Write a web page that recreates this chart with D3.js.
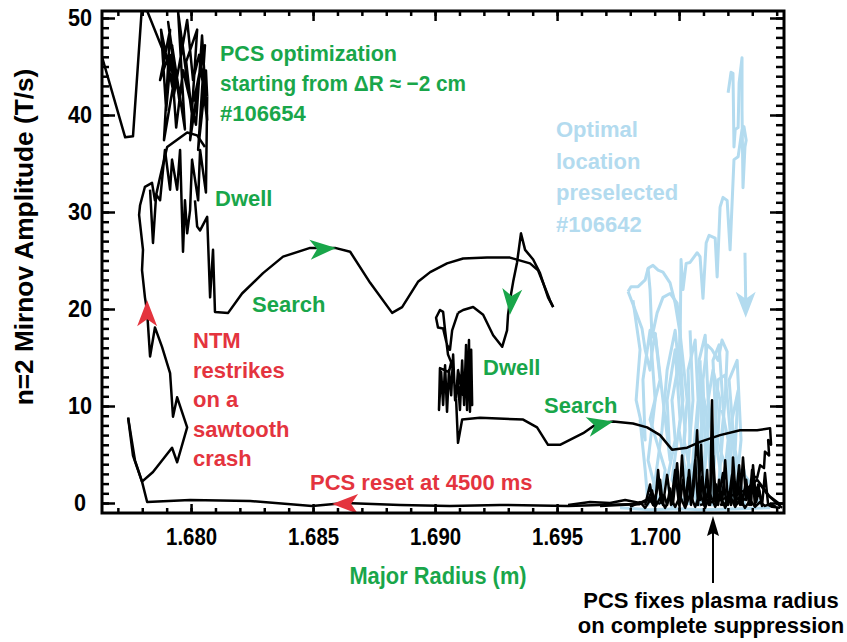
<!DOCTYPE html>
<html>
<head>
<meta charset="utf-8">
<script src="https://cdn.jsdelivr.net/npm/d3@7"></script>
<style>
  body { margin: 0; background: #fff; }
  text { font-family: "Liberation Sans", Arial, Helvetica, sans-serif; font-weight: bold; }
</style>
</head>
<body>
<svg id="chart" width="847" height="642"></svg>
<script>
// ---- axis ticks ----
const xMajor = [1.680, 1.685, 1.690, 1.695, 1.700];
const xMinor = d3.range(1677, 1705).map(v => v / 1000);
const yMajor = [0, 10, 20, 30, 40, 50];
const yMinor = d3.range(0, 51);

// ---- shot #106654: [major radius (m), n=2 amplitude (T/s)] ----
const startTrace = [[1.67635,46.0],[1.67730,37.7],[1.67762,37.8],[1.67799,51.3],[1.67811,51.3],
  [1.67881,46.9],[1.67902,45.7]];
const dwellCluster = [[1.67902,45.7],[1.67873,43.6],[1.67914,48.8],[1.67889,37.4],[1.67934,44.1],[1.67906,49.6],
  [1.67955,41.0],[1.67922,47.2],[1.67975,38.5],[1.67947,50.6],[1.67988,42.8],[1.67963,47.7],[1.68004,40.0],
  [1.67980,45.5],[1.68025,48.8],[1.67996,37.4],[1.68037,44.4],[1.68012,41.5],[1.68057,47.2],[1.68029,36.4],
  [1.68053,42.1],[1.68066,39.5],[1.68045,48.2],[1.68020,39.0],[1.67967,44.6],[1.67939,38.7],[1.67918,46.2],
  [1.67898,40.5],[1.67877,48.8],[1.67930,42.1],[1.67984,49.8],[1.68008,43.6],[1.68033,46.2],[1.68057,41.5],
  [1.68061,44.6],[1.68066,41.9]];
const dwellSpikes = [[1.68066,41.9],[1.68061,32.0],[1.68037,36.4],[1.68029,31.2],[1.68004,35.4],[1.67996,30.2],
  [1.67984,27.8],[1.67975,31.2],[1.67967,25.9],[1.67955,36.4],[1.67943,32.3],[1.67922,35.4],[1.67914,32.3],
  [1.67893,36.4],[1.67873,31.2],[1.67857,31.8],[1.67844,26.8],[1.67832,32.3]];
const restrike = [[1.67742,8.8],[1.67762,4.9],[1.67799,2.2],[1.67844,3.2],[1.67922,5.7],[1.67943,4.2],
  [1.67984,7.8],[1.67943,10.9],[1.67926,8.9],[1.67914,13.4],[1.67881,16.1],[1.67852,18.1],[1.67832,15.1],
  [1.67820,19.7],[1.67811,21.2],[1.67799,24.0],[1.67803,26.1],[1.67787,29.7],[1.67791,30.7],[1.67811,32.6],
  [1.67840,33.0],[1.67852,31.2],[1.67873,33.6],[1.67902,36.7],[1.67984,38.2],[1.68025,37.9],[1.68057,36.7]];
const searchOut = [[1.68016,31.2],[1.68025,28.5],[1.68037,28.1],[1.68066,29.5],[1.68078,21.2],[1.68090,26.1],
  [1.68098,19.7],[1.68152,19.6],[1.68209,21.6],[1.68295,23.7],[1.68377,25.4],[1.68488,26.3],[1.68590,26.3],
  [1.68652,25.9],[1.68734,22.7],[1.68824,19.6],[1.68865,20.2],[1.68930,22.8],[1.68980,23.8],[1.69049,24.7],
  [1.69115,25.2],[1.69213,25.3],[1.69307,25.3],[1.69389,24.7],[1.69422,24.0],[1.69471,20.9],[1.69484,20.2]];
const searchBack = [[1.69484,20.2],[1.69463,21.2],[1.69430,23.7],[1.69402,25.1],[1.69369,26.1],[1.69352,27.8],
  [1.69336,24.8],[1.69320,22.8],[1.69307,20.9],[1.69299,19.4],[1.69295,17.8],[1.69275,16.1],[1.69238,17.3],
  [1.69197,19.4],[1.69156,20.2],[1.69115,19.9],[1.69094,19.6]];
const secondDwell = [[1.69094,19.6],[1.69070,17.8],[1.69061,15.8],[1.69049,16.3],[1.69033,18.0],[1.69012,18.1],
  [1.69004,19.1],[1.69020,19.9],[1.69033,19.7],[1.69041,17.8],[1.69053,15.3],[1.69066,14.5],[1.69057,13.5],
  [1.69020,13.9],[1.69016,9.6],[1.69025,13.5],[1.69033,10.1],[1.69041,14.2],[1.69049,9.4],[1.69057,13.7],
  [1.69066,11.1],[1.69074,15.3],[1.69082,10.6],[1.69094,12.7],[1.69102,9.6],[1.69111,14.7],[1.69119,10.1],
  [1.69127,16.3],[1.69131,9.6],[1.69139,16.8],[1.69143,9.4],[1.69148,15.8],[1.69152,10.1],[1.69135,12.7],
  [1.69115,11.1],[1.69094,13.7],[1.69086,10.8]];
const finalSearch = [[1.69086,10.8],[1.69094,6.2],[1.69111,8.6],[1.69184,8.8],[1.69361,8.6],[1.69418,7.8],
  [1.69463,6.0],[1.69512,6.0],[1.69607,7.2],[1.69664,8.2],[1.69730,8.4],[1.69811,8.2],[1.69869,7.8],
  [1.69922,7.0],[1.69971,5.5],[1.70033,5.7],[1.70086,6.3],[1.70168,7.0],[1.70250,7.5],[1.70320,7.5],
  [1.70373,7.7],[1.70377,6.0],[1.70365,6.5],[1.70369,4.9],[1.70352,5.3],[1.70348,3.6],[1.70332,3.9],
  [1.70320,2.6],[1.70303,2.8],[1.70291,1.5],[1.70270,1.0],[1.70250,0.6],[1.70230,0.3],[1.70168,-0.2]];
const resetTrace = [[1.69840,-0.1],[1.69676,-0.2],[1.69545,-0.3],[1.69266,-0.2],[1.69061,-0.3],[1.68857,-0.2],
  [1.68631,0.0],[1.68496,-0.3],[1.68242,0.2],[1.67996,0.3],[1.67820,0.1],[1.67799,2.2],[1.67770,4.4],[1.67742,8.8]];
const suppressedA = [[1.69545,-0.2],[1.69635,0.1],[1.69717,0.0],[1.69779,0.3],[1.69840,0.0],[1.69881,0.5],[1.69922,-0.1]];
const suppressedB = [[1.69676,-0.3],[1.69758,-0.2],[1.69840,-0.1],[1.69873,0.3],[1.69889,1.3],[1.69902,-0.2],
  [1.69914,3.4],[1.69926,0.0],[1.69939,0.8],[1.69951,-0.2],[1.69963,1.5],[1.69975,-0.1],[1.69992,4.1],
  [1.70004,0.0],[1.70016,2.4],[1.70029,-0.2],[1.70041,3.4],[1.70053,0.1],[1.70061,1.9],[1.70074,7.5],
  [1.70086,0.3],[1.70094,2.7],[1.70107,0.0],[1.70119,1.3],[1.70127,-0.2],[1.70135,10.6],[1.70143,0.3],
  [1.70152,1.9],[1.70160,-0.2],[1.70168,1.3],[1.70180,3.1],[1.70193,0.0],[1.70205,1.1],[1.70213,-0.2],
  [1.70221,4.7],[1.70234,0.1],[1.70242,2.4],[1.70250,-0.2],[1.70262,4.7],[1.70275,0.3],[1.70283,1.5],
  [1.70295,-0.2],[1.70303,3.9],[1.70316,0.1],[1.70328,1.3],[1.70340,-0.3],[1.70352,3.1],[1.70365,-0.2],
  [1.70381,-0.4],[1.70414,-0.5]];
const suppressedC = [[1.69799,-0.4],[1.69840,0.1],[1.69861,-0.5],[1.69881,0.3],[1.69902,-0.4],[1.69922,0.5],
  [1.69943,-0.5],[1.69963,0.6],[1.69984,-0.4],[1.70004,0.7],[1.70025,-0.5],[1.70045,0.9],[1.70066,-0.4],
  [1.70086,1.0],[1.70107,-0.5],[1.70127,0.9],[1.70148,-0.4],[1.70168,0.8],[1.70189,-0.5],[1.70209,0.7],
  [1.70230,-0.4],[1.70250,0.5],[1.70270,-0.5],[1.70291,0.3],[1.70311,-0.4],[1.70332,0.1],[1.70352,-0.3],
  [1.70373,-0.1],[1.70398,-0.4]];
const suppressedD = [[1.70230,-0.2],[1.70283,0.6],[1.70332,1.9],[1.70365,0.8],[1.70418,-0.2]];
const suppressedE = [[1.70086,-0.2],[1.70168,0.3],[1.70270,1.3],[1.70320,2.4],[1.70373,0.6],[1.70422,-0.5]];
const suppressedF = [[1.69861,-0.2],[1.69881,1.9],[1.69893,-0.2],[1.69922,2.4],[1.69934,-0.2],[1.69951,2.9],
  [1.69967,-0.2],[1.69984,3.4],[1.70000,-0.2],[1.70012,4.9],[1.70025,-0.2],[1.70037,2.6],[1.70049,-0.2],
  [1.70066,4.4],[1.70078,-0.2],[1.70090,6.0],[1.70102,-0.2],[1.70115,3.4],[1.70123,-0.2],[1.70139,4.9],
  [1.70152,-0.2],[1.70164,2.4],[1.70176,-0.2],[1.70189,4.4],[1.70201,-0.2],[1.70217,2.9],[1.70230,-0.2],
  [1.70246,3.9],[1.70258,-0.2],[1.70275,2.4],[1.70287,-0.2],[1.70299,3.4],[1.70311,-0.2],[1.70324,1.9],
  [1.70340,-0.2]];

// ---- shot #106642 (preselected location) ----
const preTop = [[1.70201,42.3],[1.70213,44.4],[1.70221,44.3],[1.70225,36.7],[1.70230,38.5],[1.70242,38.7],
  [1.70246,43.3],[1.70258,45.9],[1.70258,40.5],[1.70262,32.5],[1.70270,36.7],[1.70275,37.4],[1.70266,38.8],
  [1.70258,38.5],[1.70242,35.7],[1.70225,35.4],[1.70209,26.1],[1.70197,31.2],[1.70180,31.5],[1.70168,30.5],
  [1.70156,23.3],[1.70148,27.3],[1.70123,27.6],[1.70111,26.8],[1.70098,21.1],[1.70086,25.4],[1.70074,25.8],
  [1.70045,24.8],[1.70029,24.7],[1.70016,22.0],[1.70008,25.1],[1.70004,15.8],[1.70016,10.6],[1.70000,7.5],
  [1.70025,3.4],[1.70045,-0.2]];
const preLoopA = [[1.69791,21.8],[1.69803,22.3],[1.69832,22.3],[1.69861,23.0],[1.69873,24.2],[1.69893,24.5],
  [1.69914,24.0],[1.69934,23.8],[1.69963,22.7],[1.69984,20.6],[1.70004,17.5],[1.70016,14.7],[1.70033,10.6],
  [1.70020,6.5],[1.70045,3.4],[1.70037,-0.2]];
const preLoopB = [[1.69791,21.8],[1.69820,19.9],[1.69848,18.0],[1.69861,15.8],[1.69881,13.7],[1.69889,15.5],
  [1.69902,17.5],[1.69922,12.7],[1.69881,8.6],[1.69943,3.4],[1.69922,-0.2]];
const preLoopC = [[1.69873,24.2],[1.69881,22.0],[1.69889,17.1],[1.69910,19.6],[1.69934,21.2],[1.69963,21.6],
  [1.69992,20.6],[1.70004,17.8],[1.70000,14.7],[1.69971,10.6],[1.69984,6.5],[1.69951,2.4],[1.69971,-0.5]];
const preDenseA = [[1.69902,17.5],[1.69963,4.4],[1.69951,10.6],[1.69984,15.8],[1.70004,8.6],[1.69971,2.4],
  [1.70025,-0.2],[1.70045,6.5],[1.70037,13.7],[1.70066,16.8],[1.70078,10.6],[1.70053,3.4],[1.70086,-0.2],
  [1.70107,5.5],[1.70098,12.7],[1.70115,16.3],[1.70135,15.8],[1.70160,14.7],[1.70176,16.8],[1.70197,15.6],
  [1.70189,10.6],[1.70168,5.5],[1.70209,2.4],[1.70189,-0.2],[1.70230,3.4],[1.70217,8.6],[1.70242,11.6],
  [1.70230,5.5],[1.70258,1.3],[1.70270,-0.2]];
const preDenseB = [[1.69840,8.6],[1.69861,3.4],[1.69873,-0.2],[1.69902,2.4],[1.69930,7.5],[1.69951,13.7],
  [1.69984,17.8],[1.70004,12.7],[1.70025,7.5],[1.70012,3.4],[1.70045,1.3],[1.70074,7.5],[1.70086,12.7],
  [1.70111,9.6],[1.70127,3.4],[1.70148,7.5],[1.70160,12.7],[1.70189,13.2],[1.70209,7.5],[1.70201,3.4],
  [1.70221,0.3],[1.70250,3.4],[1.70283,2.4],[1.70311,0.8],[1.70332,-0.2]];
const preDenseC = [[1.70086,14.7],[1.70094,8.6],[1.70074,3.4],[1.70127,0.3],[1.70143,6.5],[1.70119,10.6],
  [1.70139,13.7],[1.70168,10.6],[1.70156,5.5],[1.70180,1.3],[1.70201,6.5],[1.70176,9.6]];
const preDenseD = [[1.70045,17.8],[1.70057,10.6],[1.70037,4.4],[1.70074,-0.2],[1.70094,6.5],[1.70082,14.7],
  [1.70107,17.3],[1.70123,8.6],[1.70102,2.4],[1.70135,-0.2],[1.70152,7.5],[1.70139,14.7],[1.70164,16.3],
  [1.70184,8.6],[1.70164,2.4],[1.70197,0.3],[1.70221,7.5],[1.70205,12.7],[1.70238,14.7],[1.70254,6.5],
  [1.70234,1.3],[1.70266,3.4],[1.70283,0.3]];
const preDenseE = [[1.69811,20.9],[1.69840,15.8],[1.69824,10.6],[1.69861,6.5],[1.69852,12.7],[1.69881,17.8],
  [1.69902,10.6],[1.69873,4.4],[1.69914,0.3]];
const preFloor = [[1.69758,-0.5],[1.69881,-0.7],[1.70004,-0.6],[1.70086,-0.7],[1.70250,-0.6],[1.70373,-0.5]];
const preFinal = [[1.70270,25.8],[1.70273,21.0]];

// ---- direction arrows: tip in data units, heading in degrees (screen) ----
const arrowMarks = [
  { r: 1.67820, a: 20.9, heading: -90, kind: "red" },
  { r: 1.68594, a: 26.3, heading: -4,  kind: "green" },
  { r: 1.69307, a: 19.4, heading: 95,  kind: "green" },
  { r: 1.69730, a: 8.4,  heading: -12, kind: "green" },
  { r: 1.68578, a: -0.1, heading: 180, kind: "red" },
  { r: 1.70273, a: 19.1, heading: 90,  kind: "blue" }
];
const fixedRadius = 1.70139;

const GREEN = "#19a64a", RED = "#e4343e", BLUE = "#b3dbef";
const colorOf = { red: RED, green: GREEN, blue: BLUE };

const svg = d3.select("#chart");
const plot = { l: 102, t: 11, r: 784, b: 513 };
const x = d3.scaleLinear().domain([1.67635, 1.70430]).range([plot.l, plot.r]);
const y = d3.scaleLinear().domain([-1.031, 50.722]).range([plot.b, plot.t]);

svg.append("defs").append("clipPath").attr("id", "plotClip")
  .append("rect").attr("x", plot.l).attr("y", plot.t)
  .attr("width", plot.r - plot.l).attr("height", plot.b - plot.t);

const line = d3.line().x(d => x(d[0])).y(d => y(d[1]));
const traces = svg.append("g").attr("clip-path", "url(#plotClip)");

[preTop, preLoopA, preLoopB, preLoopC, preDenseA, preDenseB, preDenseC, preDenseD, preDenseE, preFloor, preFinal]
  .forEach(s => {
    traces.append("path").attr("d", line(s)).attr("fill", "none")
      .attr("stroke", BLUE).attr("stroke-width", 3).attr("stroke-linejoin", "round");
  });
[startTrace, dwellCluster, dwellSpikes, restrike, searchOut, searchBack, secondDwell, finalSearch,
 resetTrace, suppressedA, suppressedB, suppressedC, suppressedD, suppressedE, suppressedF].forEach(s => {
  traces.append("path").attr("d", line(s)).attr("fill", "none")
    .attr("stroke", "#000").attr("stroke-width", 2.5).attr("stroke-linejoin", "round");
});

// ---- arrows ----
function arrowHead(g, px, py, heading, color, len, wid, notch) {
  g.append("path")
    .attr("d", `M0,0 L${-len},${-wid / 2} L${-len + notch},0 L${-len},${wid / 2} Z`)
    .attr("transform", `translate(${px},${py}) rotate(${heading})`)
    .attr("fill", color);
}
const arrows = svg.append("g");
arrowMarks.forEach(m => {
  arrowHead(arrows, x(m.r), y(m.a), m.heading, colorOf[m.kind], 26, 20, 7);
});
// arrow below the axis pointing at the fixed radius
arrows.append("line").attr("x1", x(fixedRadius)).attr("x2", x(fixedRadius))
  .attr("y1", plot.b + 20).attr("y2", plot.b + 70).attr("stroke", "#000").attr("stroke-width", 2);
arrowHead(arrows, x(fixedRadius), plot.b + 3, -90, "#000", 20, 12, 3);

// ---- axes ----
function styleAxis(g) {
  g.select(".domain").remove();
  g.selectAll(".tick line").attr("stroke", "#000").attr("stroke-width", 2.5);
}
function condense(sel, factor) {
  sel.each(function () {
    const w = this.getComputedTextLength();
    d3.select(this).attr("textLength", w * factor).attr("lengthAdjust", "spacingAndGlyphs");
  });
}
function fitWidth(sel, width) {
  sel.attr("textLength", width).attr("lengthAdjust", "spacingAndGlyphs");
}
svg.append("g").attr("transform", `translate(0,${plot.b})`)
  .call(d3.axisBottom(x).tickValues(xMinor).tickSize(-5).tickFormat("")).call(styleAxis);
svg.append("g").attr("transform", `translate(0,${plot.t})`)
  .call(d3.axisTop(x).tickValues(xMinor).tickSize(-5).tickFormat("")).call(styleAxis);
svg.append("g").attr("transform", `translate(${plot.l},0)`)
  .call(d3.axisLeft(y).tickValues(yMinor).tickSize(-7).tickFormat("")).call(styleAxis);
svg.append("g").attr("transform", `translate(${plot.r},0)`)
  .call(d3.axisRight(y).tickValues(yMinor).tickSize(-8).tickFormat("")).call(styleAxis);

const xAxisG = svg.append("g").attr("transform", `translate(0,${plot.b})`)
  .call(d3.axisBottom(x).tickValues(xMajor).tickSize(-9).tickPadding(15).tickFormat(d3.format(".3f")))
  .call(styleAxis);
xAxisG.selectAll("text").attr("font-size", 24).attr("fill", "#000")
  .attr("font-family", null).call(condense, 0.85);
// the last label sits left of its tick to leave room for the radius arrow
xAxisG.selectAll(".tick").filter(d => d === 1.700).select("text").attr("dx", -24);
svg.append("g").attr("transform", `translate(0,${plot.t})`)
  .call(d3.axisTop(x).tickValues(xMajor).tickSize(-10).tickFormat("")).call(styleAxis);

const yAxisG = svg.append("g").attr("transform", `translate(${plot.l},0)`)
  .call(d3.axisLeft(y).tickValues(yMajor).tickSize(-13).tickFormat(d3.format("d")))
  .call(styleAxis);
yAxisG.selectAll("text").attr("font-size", 24).attr("fill", "#000").attr("font-family", null)
  .attr("text-anchor", "middle").attr("x", -22).call(condense, 0.9);
svg.append("g").attr("transform", `translate(${plot.r},0)`)
  .call(d3.axisRight(y).tickValues(yMajor).tickSize(-14).tickFormat("")).call(styleAxis);

svg.append("rect").attr("x", plot.l).attr("y", plot.t)
  .attr("width", plot.r - plot.l).attr("height", plot.b - plot.t)
  .attr("fill", "none").attr("stroke", "#000").attr("stroke-width", 3);

// ---- titles ----
svg.append("text").attr("x", 438).attr("y", 584).attr("text-anchor", "middle")
  .attr("font-size", 24).attr("fill", GREEN).text("Major Radius (m)").call(condense, 0.91);
svg.append("text").attr("transform", "translate(33,237) rotate(-90)").attr("text-anchor", "middle")
  .attr("font-size", 25).attr("fill", "#000").text("n=2 Mirnov Amplitude (T/s)").call(condense, 1.05);

// ---- annotations ----
function block(lines, px, baselines, color, size) {
  return lines.map((t, i) =>
    svg.append("text").attr("x", px).attr("y", baselines[i])
      .attr("font-size", size).attr("fill", color).text(t));
}
const optLines = block(["PCS optimization", "starting from \u0394R \u2248 \u22122 cm", "#106654"], 220, [61, 91, 121], GREEN, 22);
fitWidth(optLines[0], 177);
fitWidth(optLines[1], 246);
block(["Dwell"], 215, [206], GREEN, 22);
block(["Search"], 252, [312], GREEN, 22);
block(["Dwell"], 483, [375], GREEN, 22);
block(["Search"], 544, [413], GREEN, 22);
block(["NTM", "restrikes", "on a", "sawtooth", "crash"], 193, [348, 378, 407, 437, 466], RED, 22);
block(["PCS reset at 4500 ms"], 310, [490], RED, 22);
block(["Optimal", "location", "preselected", "#106642"], 556, [137, 169, 200, 232], BLUE, 22);
["PCS fixes plasma radius", "on complete suppression"].forEach((t, i) =>
  svg.append("text").attr("x", 711).attr("y", [608, 633][i]).attr("text-anchor", "middle")
    .attr("font-size", 22).attr("fill", "#000").text(t));
</script>
</body>
</html>
